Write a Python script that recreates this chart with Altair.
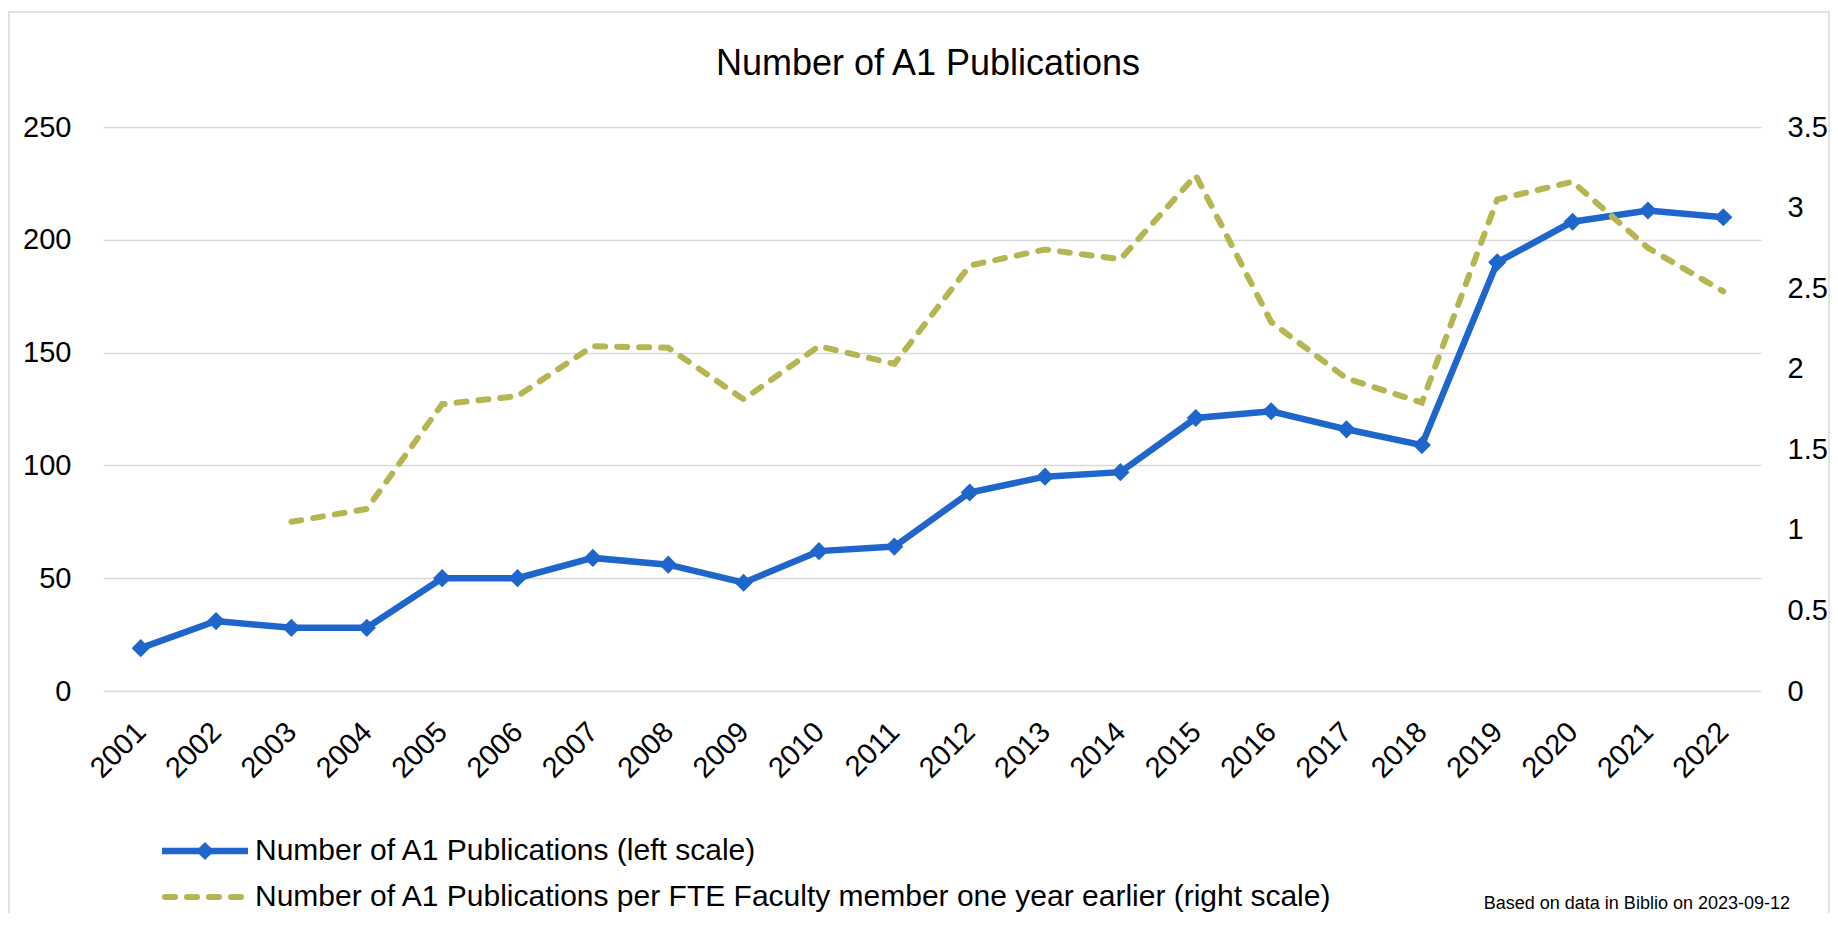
import altair as alt
import pandas as pd

# ---------------- data ----------------
years = [str(y) for y in range(2001, 2023)]
pubs = [19, 31, 28, 28, 50, 50, 59, 56, 48, 62, 64, 88, 95, 97, 121, 124, 116, 109, 190, 208, 213, 210]
fte_years = years[2:]
per_fte = [1.05, 1.13, 1.78, 1.83, 2.14, 2.13, 1.81, 2.14, 2.03, 2.64, 2.74, 2.68,
           3.20, 2.29, 1.94, 1.79, 3.05, 3.16, 2.75, 2.48]

left_ticks = [0, 50, 100, 150, 200, 250]
right_ticks = [0, 0.5, 1, 1.5, 2, 2.5, 3, 3.5]

title_text = "Number of A1 Publications"
legend_labels = [
    "Number of A1 Publications (left scale)",
    "Number of A1 Publications per FTE Faculty member one year earlier (right scale)",
]
note_text = "Based on data in Biblio on 2023-09-12"

# ---------------- styles ----------------
FONT = "Liberation Sans"
BLUE = "#1F66CC"
GREEN = "#B5B552"
GRID = "#D9D9D9"
W, H = 1658, 564
DASH = [10, 12]
MARKER_SIZE = 330

df_pub = pd.DataFrame({"year": years, "pubs": pubs})
df_fte = pd.DataFrame({"year": fte_years, "fte": per_fte})

axis_common = dict(labelFont=FONT, labelFontSize=29, labelColor="#000000",
                   domain=False, ticks=False, title=None)

x_scale = alt.Scale(type="point", domain=years, padding=0.5)
x_axis = alt.Axis(labelAngle=-45, labelAlign="right", labelBaseline="middle",
                  labelPadding=36, grid=False, labelOverlap=False, **axis_common)
x_enc = alt.X("year:O", scale=x_scale, axis=x_axis)

left_scale = alt.Scale(domain=[0, 250], nice=False, zero=True)
left_axis = alt.Axis(values=left_ticks, format="d", labelPadding=32, grid=True,
                     gridColor=GRID, gridWidth=1.5, **axis_common)
right_axis = alt.Axis(orient="right", values=right_ticks, format="~g", labelPadding=26,
                      grid=False, **axis_common)

blue_line = alt.Chart(df_pub).mark_line(color=BLUE, strokeWidth=6.5).encode(
    x=x_enc,
    y=alt.Y("pubs:Q", scale=left_scale, axis=left_axis),
)
blue_pts = alt.Chart(df_pub).mark_point(
    shape="diamond", filled=True, color=BLUE, size=MARKER_SIZE, opacity=1
).encode(
    x=x_enc,
    y=alt.Y("pubs:Q", scale=left_scale, axis=None),
)
green_line = alt.Chart(df_fte).mark_line(
    color=GREEN, strokeWidth=6, strokeDash=DASH, strokeCap="round"
).encode(
    x=x_enc,
    y=alt.Y("fte:Q", scale=alt.Scale(domain=[0, 3.5], nice=False, zero=True), axis=right_axis),
)

# ---------------- decorations ----------------
one = pd.DataFrame({"k": [0]})

border = alt.Chart(one).mark_rect(fill=None, stroke=GRID, strokeWidth=1.5).encode(
    x=alt.value(-94), x2=alt.value(1726), y=alt.value(-115), y2=alt.value(900)
)

title = alt.Chart(pd.DataFrame({"t": [title_text]})).mark_text(
    font=FONT, fontSize=36, color="#000000", align="center", baseline="alphabetic"
).encode(x=alt.value(W / 2 - 4), y=alt.value(-52), text="t:N")

leg1_rule = alt.Chart(one).mark_rule(color=BLUE, strokeWidth=6.5).encode(
    x=alt.value(59), x2=alt.value(145), y=alt.value(724))
leg1_pt = alt.Chart(one).mark_point(shape="diamond", filled=True, color=BLUE,
                                    size=MARKER_SIZE, opacity=1).encode(
    x=alt.value(102), y=alt.value(724))
leg2_rule = alt.Chart(one).mark_rule(color=GREEN, strokeWidth=6, strokeDash=DASH, strokeCap="round").encode(
    x=alt.value(62), x2=alt.value(145), y=alt.value(770))
leg1_text = alt.Chart(pd.DataFrame({"t": [legend_labels[0]]})).mark_text(
    font=FONT, fontSize=30, color="#000000", align="left", baseline="middle"
).encode(x=alt.value(152), y=alt.value(724), text="t:N")
leg2_text = alt.Chart(pd.DataFrame({"t": [legend_labels[1]]})).mark_text(
    font=FONT, fontSize=30, color="#000000", align="left", baseline="middle"
).encode(x=alt.value(152), y=alt.value(770), text="t:N")

note = alt.Chart(pd.DataFrame({"t": [note_text]})).mark_text(
    font=FONT, fontSize=18, color="#000000", align="right", baseline="alphabetic"
).encode(x=alt.value(1687), y=alt.value(782), text="t:N")

chart = alt.layer(
    border, blue_line, blue_pts, green_line, title,
    leg1_rule, leg1_pt, leg2_rule, leg1_text, leg2_text, note
).resolve_scale(y="independent").properties(
    width=W, height=H,
    autosize=alt.AutoSizeParams(type="none"),
    padding={"left": 95, "top": 119, "right": 69, "bottom": 222},
).configure_view(stroke=None)

chart.save("out.html", embed_options={"renderer": "svg", "actions": False})
